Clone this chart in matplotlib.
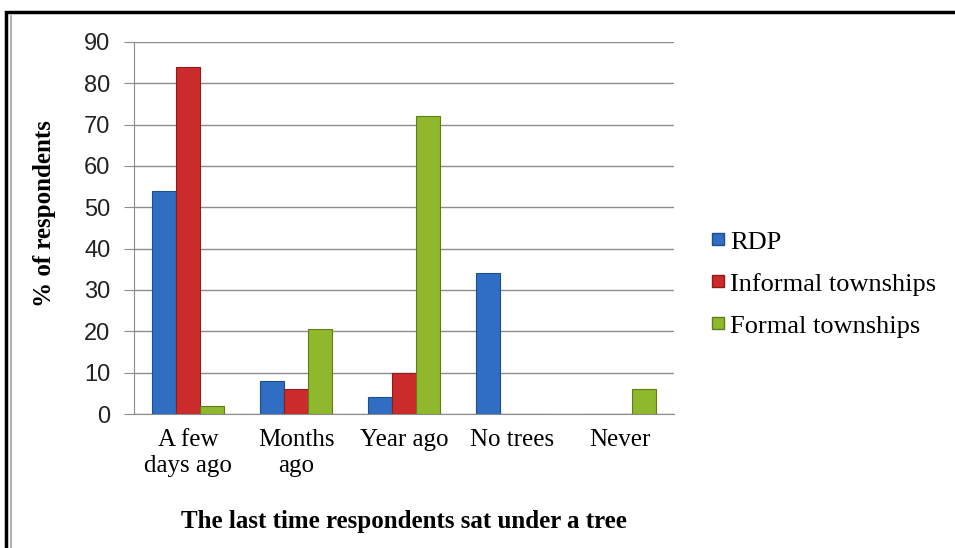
import numpy as np
from matplotlib import pyplot as plt
from matplotlib.lines import Line2D
from matplotlib.patches import Rectangle

categories = ['A few\ndays ago', 'Months\nago', 'Year ago', 'No trees', 'Never']
series_names = ['RDP', 'Informal townships', 'Formal townships']
rdp = [54, 8, 4, 34, 0]
informal = [84, 6, 10, 0, 0]
formal = [2, 20.5, 72, 0, 6]

colors = ['#2f6ec2', '#cc2b2b', '#8fb82c']
edges = ['#1d4f8f', '#8e1c1c', '#5f7d1a']

serif = 'Liberation Serif'
sans = 'Liberation Sans'

fig = plt.figure(figsize=(9.55, 5.48), dpi=100)
ax = fig.add_axes([0.1403, 0.2445, 0.5655, 0.679])

x = np.arange(len(categories))
w = 1 / 4.5
for i, vals in enumerate([rdp, informal, formal]):
    ax.bar(x + (i - 1) * w, vals, width=w, color=colors[i], edgecolor=edges[i],
           linewidth=0.8, zorder=3)

ax.set_xlim(-0.5, len(categories) - 0.5)
ax.set_ylim(0, 90)
ax.set_yticks(range(0, 91, 10))
ax.yaxis.grid(True, color='#8c8c8c', linewidth=1.0, zorder=0)
ax.set_xticks(x)
ax.set_xticklabels(categories, fontfamily=serif, fontsize=18, linespacing=1.2)
ax.tick_params(axis='x', length=0, pad=11)
ax.tick_params(axis='y', length=7, width=0.8, color='#8c8c8c', labelsize=17, pad=10,
               labelcolor='#222222')
for lab in ax.get_yticklabels():
    lab.set_fontfamily(sans)

for s in ['top', 'right']:
    ax.spines[s].set_visible(False)
ax.spines['left'].set_color('#8c8c8c')
ax.spines['bottom'].set_color('#8c8c8c')

ax.set_ylabel('% of respondents', fontfamily=serif, fontweight='bold', fontsize=18)
ax.yaxis.set_label_coords(-0.144, 0.54)
ax.set_xlabel('The last time respondents sat under a tree', fontfamily=serif,
              fontweight='bold', fontsize=18, labelpad=24)

handles = [Line2D([], [], marker='s', linestyle='none', markersize=8,
                  markerfacecolor=c, markeredgecolor=e) for c, e in zip(colors, edges)]
leg = fig.legend(handles, series_names, loc='center left', bbox_to_anchor=(0.715, 0.482),
                 frameon=False, prop={'family': serif, 'size': 19},
                 handletextpad=0.0, labelspacing=0.7, handlelength=0.9)

# outer frame
fig.add_artist(Rectangle((0.006, -0.01), 1.2, 0.988, transform=fig.transFigure,
                         fill=False, edgecolor='black', linewidth=2.5))
fig.add_artist(Line2D([0.011, 0.011], [0, 0.97], transform=fig.transFigure,
                      color='#a0a0a0', linewidth=1.2))

fig.savefig('out.png', dpi=100)
